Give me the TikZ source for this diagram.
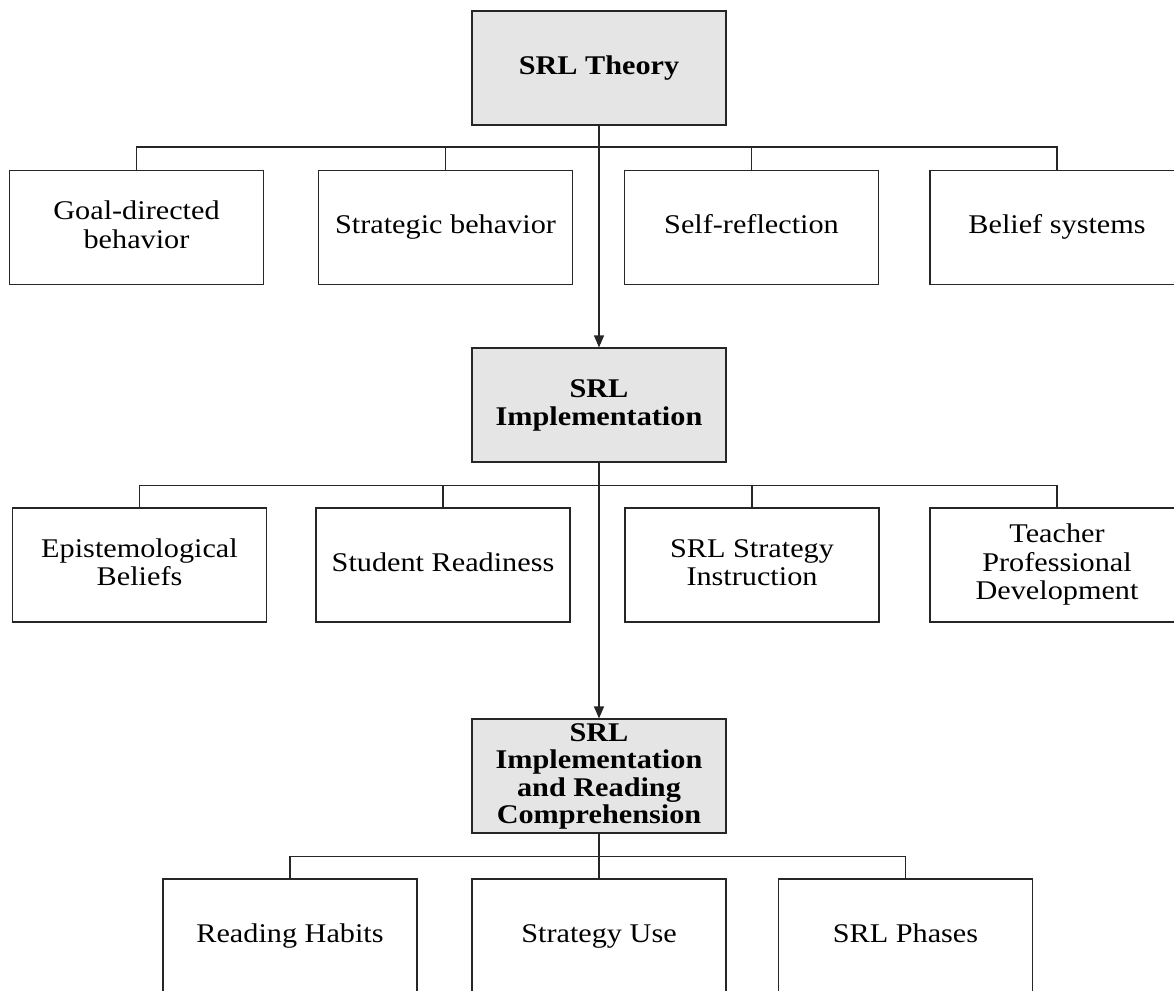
\documentclass[tikz,border=0pt]{standalone}
\usepackage{fontspec}
\setmainfont[FakeStretch=1.12]{Liberation Serif}
\usetikzlibrary{arrows.meta}
\newcommand\sx{\rule[-8pt]{0pt}{28.5pt}}
\newcommand\sbx{\rule[-7.5pt]{0pt}{27.5pt}}
\begin{document}
\begin{tikzpicture}[x=1pt,y=-1pt,
  leaf/.style={draw=black!85, line width=1.2pt, fill=white, inner sep=0pt,
    minimum width=254pt, minimum height=114pt, align=center,
    font=\fontsize{27}{28.5}\selectfont},
  mainbox/.style={leaf, fill=black!10, font=\fontsize{27}{27.5}\selectfont\bfseries},
  conn/.style={draw=black!85, line width=1.2pt},
  arr/.style={conn, -{Triangle[length=12pt,width=10pt]}}]
\useasboundingbox (0,0) rectangle (1174,990);
\clip (0,0) rectangle (1174,990);
% main column
\node[mainbox] (t) at (599,68) {\sbx SRL Theory};
\node[mainbox] (impl) at (599,405) {\sbx SRL\\\sbx Implementation};
\node[mainbox] (comp) at (599,776) {\sbx SRL\\\sbx Implementation\\\sbx and Reading\\\sbx Comprehension};
% row 1
\node[leaf] (g1) at (136.5,227.5) {\sx Goal-directed\\\sx behavior};
\node[leaf] (g2) at (445.5,227.5) {\sx Strategic behavior};
\node[leaf] (g3) at (751.5,227.5) {\sx Self-reflection};
\node[leaf] (g4) at (1057,227.5) {\sx Belief systems};
% row 2
\node[leaf] (e1) at (139.5,565) {\sx Epistemological\\\sx Beliefs};
\node[leaf] (e2) at (443,565) {\sx Student Readiness};
\node[leaf] (e3) at (752,565) {\sx SRL Strategy\\\sx Instruction};
\node[leaf] (e4) at (1057,565) {\sx Teacher\\\sx Professional\\\sx Development};
% row 3
\node[leaf] (r1) at (290,936) {\sx Reading Habits};
\node[leaf] (r2) at (599,936) {\sx Strategy Use};
\node[leaf] (r3) at (905.5,936) {\sx SRL Phases};
% buses row 1
\draw[conn] (g1.north) -- ++(0,-23) -| (g4.north);
\draw[conn] (g2.north) -- ++(0,-23);
\draw[conn] (g3.north) -- ++(0,-23);
\draw[arr] (t.south) -- (impl.north);
% buses row 2
\draw[conn] (e1.north) -- ++(0,-22) -| (e4.north);
\draw[conn] (e2.north) -- ++(0,-22);
\draw[conn] (e3.north) -- ++(0,-22);
\draw[arr] (impl.south) -- (comp.north);
% buses row 3
\draw[conn] (r1.north) -- ++(0,-22) -| (r3.north);
\draw[conn] (comp.south) -- (r2.north);
\end{tikzpicture}
\end{document}
